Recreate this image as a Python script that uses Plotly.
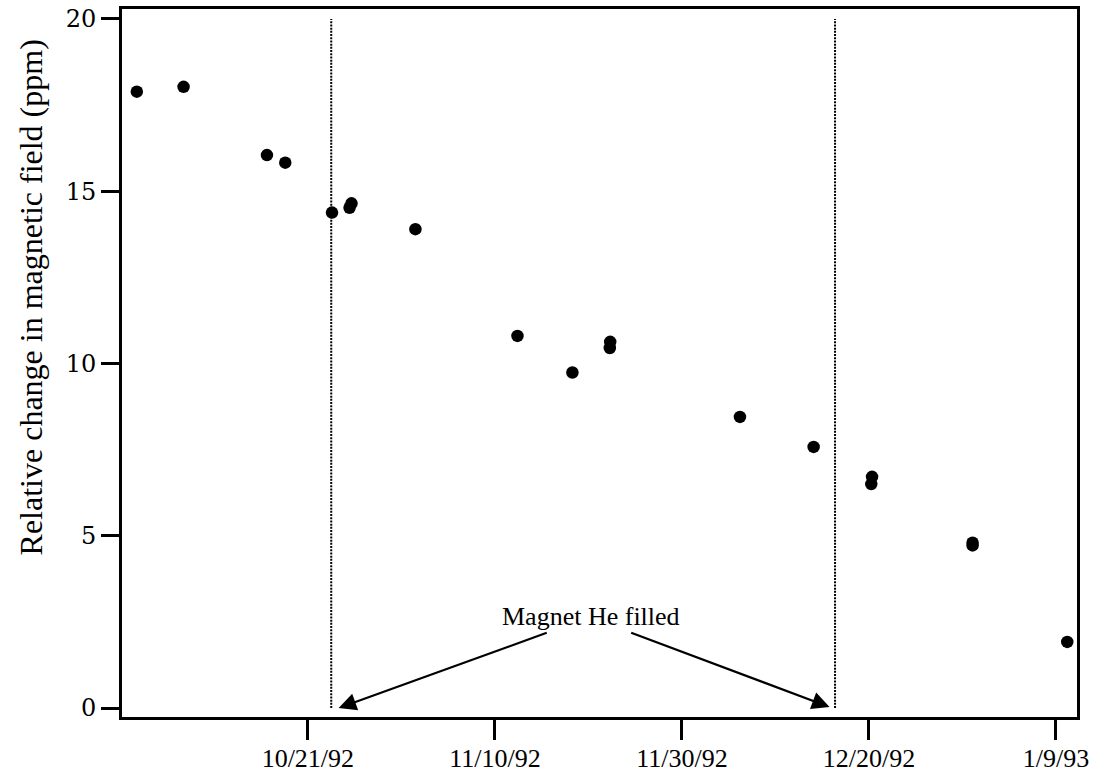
import plotly.graph_objects as go

# ---- data ----
meas_dates = ["1992-10-02 17:00", "1992-10-07 17:00", "1992-10-16 15:00", "1992-10-18 14:00",
              "1992-10-23 14:00", "1992-10-25 11:00", "1992-10-25 16:00", "1992-11-01 12:00",
              "1992-11-12 10:00", "1992-11-18 07:00", "1992-11-22 07:00", "1992-11-22 08:00",
              "1992-12-06 05:00", "1992-12-14 02:00", "1992-12-20 06:00", "1992-12-20 08:00",
              "1992-12-31 02:00", "1992-12-31 02:00", "1993-01-10 05:00"]
field_change = [17.89, 18.03, 16.05, 15.83,
                14.38, 14.52, 14.65, 13.90,
                10.80, 9.74, 10.45, 10.63,
                8.45, 7.58, 6.50, 6.71,
                4.72, 4.80, 1.92]

fill_dates = ["1992-10-23 12:00", "1992-12-16 09:00"]   # magnet He fill (dotted lines)
fill_line_y = [0, 20]

tick_dates = ["1992-10-21", "1992-11-10", "1992-11-30", "1992-12-20", "1993-01-09"]
tick_text = ["10/21/92", "11/10/92", "11/30/92", "12/20/92", "1/9/93"]
y_ticks = [0, 5, 10, 15, 20]

x_range = ["1992-10-01 03:00", "1993-01-11 06:00"]
y_range = [-0.26, 20.29]

fig = go.Figure()

for d in fill_dates:
    fig.add_trace(go.Scatter(
        x=[d, d], y=fill_line_y, mode="lines",
        line=dict(color="black", width=2, dash="2px,1.2px"),
        showlegend=False, hoverinfo="skip"))

fig.add_trace(go.Scatter(
    x=meas_dates, y=field_change, mode="markers",
    marker=dict(color="black", size=12.5, line=dict(width=0)),
    showlegend=False))

label_x = "1992-11-20 07:00"
label_y = 2.67
fig.add_annotation(x=label_x, y=label_y, xref="x", yref="y", text="Magnet He filled",
                   showarrow=False, font=dict(family="Liberation Serif", size=26, color="black"))

tails = [("1992-11-15 17:00", 2.2), ("1992-11-24 10:00", 2.2)]
tips = [("1992-10-24 07:00", 0.0), ("1992-12-15 19:00", 0.03)]
for (tx, ty), (hx, hy) in zip(tails, tips):
    fig.add_annotation(x=hx, y=hy, ax=tx, ay=ty, xref="x", yref="y", axref="x", ayref="y",
                       text="", showarrow=True, arrowhead=2, arrowsize=1.6, arrowwidth=2.2,
                       arrowcolor="black", standoff=0, startstandoff=0)

# y-axis title placed like the reference (centred higher than the plot area)
fig.add_annotation(x=-0.095, y=0.593, xref="paper", yref="paper", textangle=-90,
                   text="Relative change in magnetic field (ppm)", showarrow=False,
                   xanchor="center", yanchor="middle",
                   font=dict(family="Liberation Serif", size=32, color="black"))

fig.update_xaxes(
    type="date", range=x_range, tickmode="array", tickvals=tick_dates, ticktext=tick_text,
    showgrid=False, zeroline=False, showline=True, linecolor="black", linewidth=3, mirror=True,
    ticks="outside", ticklen=20, tickwidth=3, tickcolor="black", ticklabelstandoff=-4,
    tickfont=dict(family="Liberation Serif", size=26, color="black"))

fig.update_yaxes(
    range=y_range, tickmode="array", tickvals=y_ticks,
    showgrid=False, zeroline=False, showline=True, linecolor="black", linewidth=3, mirror=True,
    ticks="outside", ticklen=18, tickwidth=3, tickcolor="black",
    tickfont=dict(family="DejaVu Serif", size=24, color="black"))

fig.update_layout(
    width=1095, height=774,
    margin=dict(l=122, r=18, t=9, b=57, autoexpand=False),
    paper_bgcolor="white", plot_bgcolor="white", showlegend=False)

fig.write_html("out.html", config={"displayModeBar": False},
               post_script="document.body.style.margin='0';document.body.style.overflow='hidden';")
